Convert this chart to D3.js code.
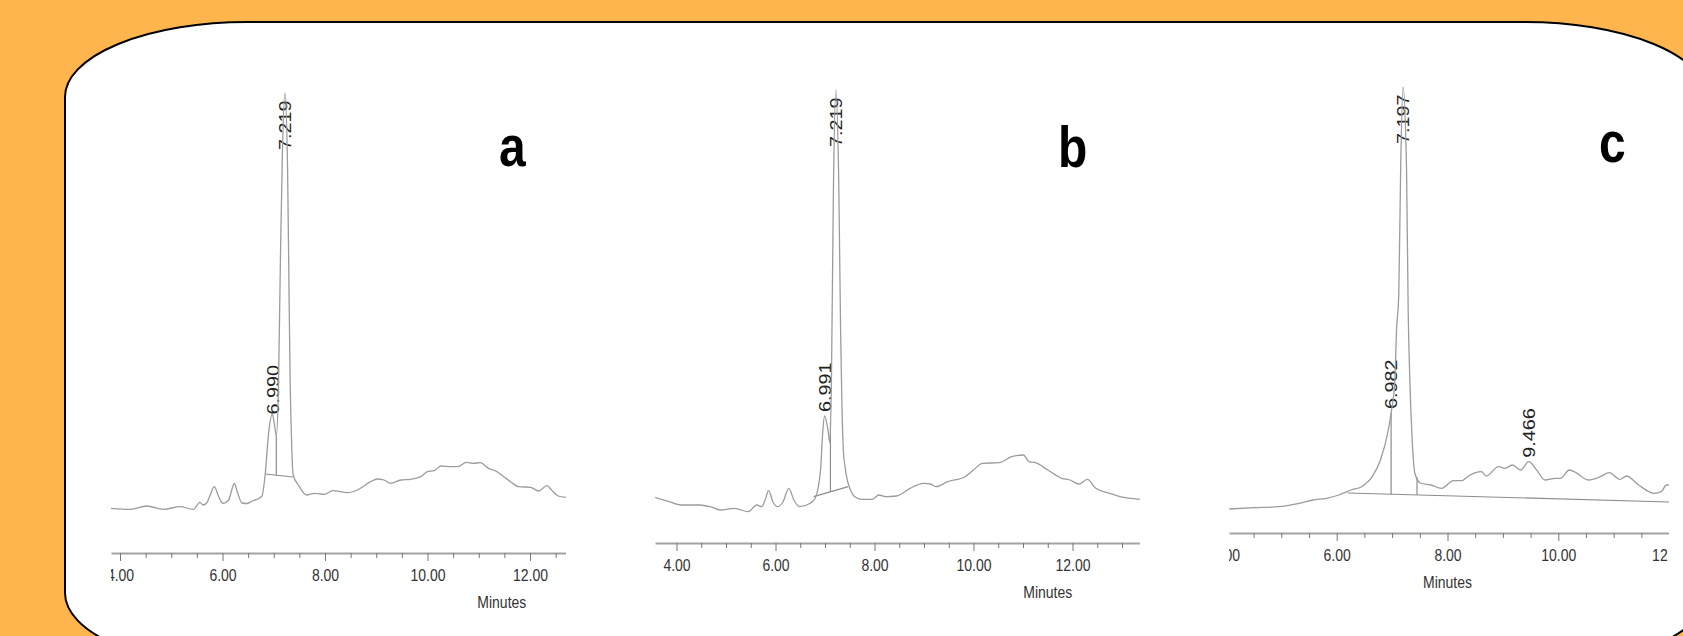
<!DOCTYPE html>
<html>
<head>
<meta charset="utf-8">
<script src="https://d3js.org/d3.v7.min.js"></script>
<style>
  body { margin: 0; background: #ffb54d; }
  text { font-family: "Liberation Sans", Arial, sans-serif; }
  .trace { fill: none; stroke: #9c9c9c; stroke-width: 1.3; }
  .intbase, .drop { stroke: #8c8c8c; stroke-width: 1.2; fill: none; }
  .axis .domain { stroke: #a3a3a3; stroke-width: 2.2; }
  .axis line { stroke: #777; stroke-width: 1; }
  .axis text { font-size: 14px; fill: #333; }
</style>
</head>
<body>
<script>
var width = 1683, height = 636;

// panel a : retention time (min) / detector response
var timesA  = [3.82, 4.20, 4.52, 4.85, 5.17, 5.43, 5.56, 5.62, 5.69, 5.76, 5.84, 5.92, 5.98, 6.02, 6.12, 6.18, 6.23, 6.29, 6.38, 6.47, 6.58, 6.67, 6.77, 6.83, 6.90, 6.97, 7.01, 7.05, 7.09, 7.13, 7.17, 7.219, 7.27, 7.30, 7.32, 7.35, 7.38, 7.48, 7.64, 7.80, 7.99, 8.15, 8.44, 8.63, 8.89, 9.02, 9.15, 9.28, 9.48, 9.67, 9.87, 10.00, 10.13, 10.26, 10.46, 10.59, 10.76, 10.90, 11.03, 11.19, 11.32, 11.49, 11.62, 11.78, 12.01, 12.17, 12.33, 12.42, 12.55, 12.75];
var valuesA = [11.7, 10.7, 14.0, 10.7, 13.3, 10.7, 17.7, 15.0, 17.0, 25.0, 33.3, 24.0, 18.0, 16.7, 20.0, 30.0, 36.7, 28.0, 17.0, 16.5, 19.0, 20.7, 24.0, 44.0, 87.0, 106.0, 97.0, 84.0, 130.0, 260.0, 370.0, 427.0, 350.0, 220.0, 140.0, 75.0, 45.0, 35.0, 25.0, 26.7, 25.7, 29.3, 27.3, 30.0, 38.3, 41.0, 40.0, 36.7, 40.0, 40.7, 43.3, 48.3, 49.3, 54.0, 53.3, 53.3, 57.7, 56.7, 57.3, 51.7, 49.3, 43.3, 38.3, 33.3, 32.7, 29.0, 34.3, 30.0, 24.0, 22.3];
var peaksA  = [6.990, 7.219];
var dropsA  = [7.05];
var baseTimesA  = [6.83, 7.38];
var baseValuesA = [46, 43];

// panel b
var timesB  = [3.57, 3.85, 4.09, 4.47, 4.68, 4.89, 5.17, 5.45, 5.62, 5.72, 5.79, 5.86, 5.95, 6.04, 6.15, 6.27, 6.37, 6.49, 6.70, 6.80, 6.91, 6.95, 6.991, 7.06, 7.10, 7.13, 7.17, 7.219, 7.28, 7.315, 7.34, 7.37, 7.40, 7.45, 7.50, 7.60, 7.74, 7.95, 8.09, 8.23, 8.44, 8.72, 8.99, 9.13, 9.24, 9.48, 9.83, 10.00, 10.18, 10.52, 10.77, 11.01, 11.12, 11.25, 11.50, 11.78, 11.95, 12.13, 12.30, 12.47, 12.75, 12.96, 13.36];
var valuesB = [22.7, 18.3, 15.0, 15.0, 13.3, 10.0, 11.7, 8.3, 15.0, 13.3, 20.0, 29.3, 18.0, 13.3, 18.0, 31.7, 20.0, 13.3, 16.7, 21.7, 50.0, 85.0, 104.0, 90.0, 77.0, 140.0, 330.0, 430.0, 330.0, 190.0, 120.0, 70.0, 55.0, 40.0, 32.0, 23.3, 20.7, 20.7, 25.0, 23.3, 24.0, 31.7, 36.7, 36.0, 33.3, 38.3, 43.3, 50.0, 56.7, 57.3, 63.3, 65.0, 58.3, 57.3, 50.0, 41.7, 40.0, 36.0, 40.7, 31.7, 26.7, 23.3, 20.7];
var peaksB  = [6.991, 7.219];
var dropsB  = [7.11];
var baseTimesB  = [6.77, 7.47];
var baseValuesB = [23.3, 33.3];

// panel c
var timesC  = [4.06, 4.51, 4.95, 5.32, 5.57, 5.82, 6.04, 6.26, 6.45, 6.64, 6.79, 6.92, 6.982, 7.05, 7.08, 7.12, 7.155, 7.197, 7.26, 7.29, 7.32, 7.36, 7.41, 7.51, 7.70, 7.89, 8.11, 8.26, 8.36, 8.61, 8.70, 8.92, 9.04, 9.17, 9.32, 9.466, 9.61, 9.76, 9.95, 10.04, 10.20, 10.32, 10.54, 10.76, 10.92, 11.11, 11.23, 11.45, 11.73, 11.86, 11.95, 12.05];
var valuesC = [11.0, 12.3, 13.3, 16.7, 20.0, 21.7, 25.0, 30.0, 33.3, 43.3, 60.0, 87.0, 107.0, 140.0, 190.0, 225.0, 353.0, 433.0, 353.0, 210.0, 140.0, 83.0, 47.0, 37.0, 35.0, 31.7, 39.3, 39.3, 43.3, 48.3, 44.0, 53.3, 51.7, 55.0, 50.0, 58.3, 50.0, 40.0, 41.7, 41.7, 50.0, 47.3, 40.0, 43.3, 47.3, 40.7, 44.0, 35.0, 26.7, 28.3, 35.0, 35.0];
var peaksC  = [6.982, 7.197, 9.466];
var dropsC  = [6.982, 7.45];
var baseTimesC  = [6.20, 12.0];
var baseValuesC = [27, 18];

var majorTicks = [4, 6, 8, 10, 12];

var panels = [
  {letter: "a", t: timesA, v: valuesA, peaks: peaksA, drops: dropsA, bt: baseTimesA, bv: baseValuesA,
   x4: 120, x12: 530, left: 111, right: 566, axisY: 553, lx: 499, ly: 166, minutesAt: 11.45},
  {letter: "b", t: timesB, v: valuesB, peaks: peaksB, drops: dropsB, bt: baseTimesB, bv: baseValuesB,
   x4: 676.5, x12: 1072.5, left: 655, right: 1140, axisY: 543, lx: 1058, ly: 167, minutesAt: 11.5},
  {letter: "c", t: timesC, v: valuesC, peaks: peaksC, drops: dropsC, bt: baseTimesC, bv: baseValuesC,
   x4: 1225.9, x12: 1669.1, left: 1229, right: 1669, axisY: 533, lx: 1599, ly: 162, minutesAt: 8.0}
];

function valueAt(ts, vs, t) {
  var i = d3.bisectLeft(ts, t);
  if (i <= 0) return vs[0];
  if (i >= ts.length) return vs[vs.length - 1];
  var f = (t - ts[i - 1]) / (ts[i] - ts[i - 1]);
  return vs[i - 1] + f * (vs[i] - vs[i - 1]);
}

var svg = d3.select("body").append("svg")
    .attr("width", width)
    .attr("height", height);

svg.append("rect")
    .attr("width", width).attr("height", height)
    .attr("fill", "#ffb54d");

svg.append("rect")
    .attr("x", 65).attr("y", 22)
    .attr("width", 1642).attr("height", 646)
    .attr("rx", 182).attr("ry", 75)
    .attr("fill", "#fff")
    .attr("stroke", "#000")
    .attr("stroke-width", 2);

// shared response scale
var y = d3.scaleLinear().domain([0, 440]).range([520, 80]);

panels.forEach(function(p, k) {
  var base = d3.scaleLinear().domain([4, 12]).range([p.x4, p.x12]);
  var x = d3.scaleLinear()
      .domain([base.invert(p.left), base.invert(p.right)])
      .range([p.left, p.right]);

  var clipId = "clip" + k;
  svg.append("clipPath").attr("id", clipId)
    .append("rect")
      .attr("x", p.left).attr("y", 0)
      .attr("width", p.right - p.left).attr("height", height);

  var g = svg.append("g").attr("clip-path", "url(#" + clipId + ")");

  // peak labels (rotated, placed over the apex)
  p.peaks.forEach(function(rt) {
    var ay = y(valueAt(p.t, p.v, rt));
    var by = ay < 120 ? ay + 57 : ay - 4;
    g.append("text")
      .attr("transform", "translate(" + (x(rt) + 6) + "," + by + ") scale(1,1.2) rotate(-90)")
      .attr("font-size", "16.5px")
      .attr("fill", "#222")
      .text(rt.toFixed(3));
  });

  // integration baseline
  g.append("line")
    .attr("class", "intbase")
    .attr("x1", x(p.bt[0])).attr("y1", y(p.bv[0]))
    .attr("x2", x(p.bt[1])).attr("y2", y(p.bv[1]));

  // drop lines
  p.drops.forEach(function(t) {
    g.append("line")
      .attr("class", "drop")
      .attr("x1", x(t)).attr("x2", x(t))
      .attr("y1", y(valueAt(p.bt, p.bv, t)))
      .attr("y2", y(valueAt(p.t, p.v, t)));
  });

  var line = d3.line()
      .x(function(d) { return x(d[0]); })
      .y(function(d) { return y(d[1]); })
      .curve(d3.curveMonotoneX);

  g.append("path")
    .attr("class", "trace")
    .attr("d", line(d3.zip(p.t, p.v)));

  // x axis : minor ticks every 0.5 min, labelled majors
  var lo = x.domain()[0], hi = x.domain()[1];
  var minor = d3.range(Math.ceil(lo * 2) / 2, hi + 1e-6, 0.5)
      .filter(function(d) { return majorTicks.indexOf(d) < 0; });

  var ax = svg.append("g").attr("clip-path", "url(#" + clipId + ")");

  ax.append("g")
    .attr("class", "axis")
    .attr("transform", "translate(0," + p.axisY + ")")
    .call(d3.axisBottom(x).tickValues(minor).tickSize(5).tickSizeOuter(0).tickFormat(""));

  var major = ax.append("g")
    .attr("class", "axis")
    .attr("transform", "translate(0," + p.axisY + ")")
    .call(d3.axisBottom(x)
      .tickValues(majorTicks.filter(function(d) { return d >= lo - 0.5 && d <= hi + 0.5; }))
      .tickSize(8).tickSizeOuter(0).tickFormat(d3.format(".2f")));
  major.select(".domain").remove();
  major.selectAll("text")
    .attr("y", null).attr("dy", null)
    .attr("transform", "translate(0,28) scale(1,1.2)");

  svg.append("text")
    .attr("transform", "translate(" + x(p.minutesAt) + "," + (p.axisY + 55) + ") scale(1,1.2)")
    .attr("text-anchor", "middle")
    .attr("font-size", "14px")
    .attr("fill", "#333")
    .text("Minutes");

  svg.append("text")
    .attr("transform", "translate(" + p.lx + "," + p.ly + ") scale(1,1.2)")
    .attr("font-size", "48px")
    .attr("font-weight", "bold")
    .attr("fill", "#000")
    .text(p.letter);
});
</script>
</body>
</html>
